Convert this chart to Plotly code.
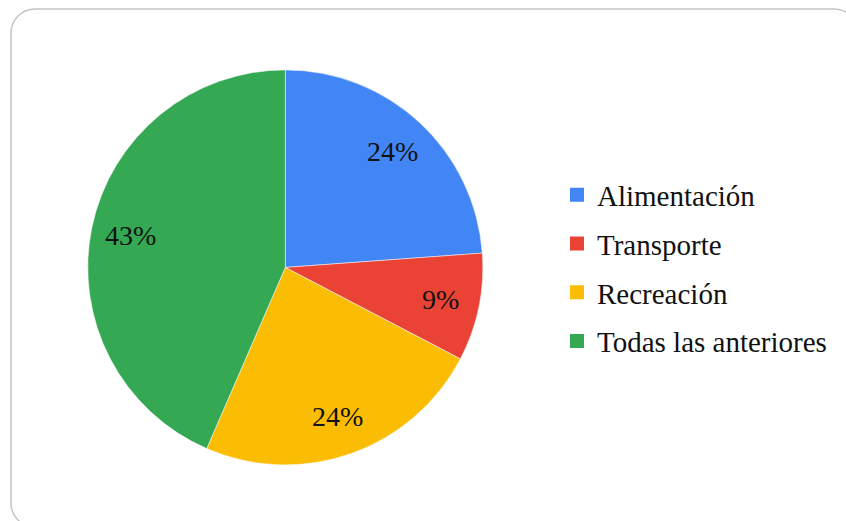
import math
import plotly.graph_objects as go

categories = ["Alimentación", "Transporte", "Recreación", "Todas las anteriores"]
values = [23.8, 8.8, 23.8, 43.4]
colors = ["#4285F4", "#EA4335", "#FBBC04", "#34A853"]

W, H = 846, 521
cx, cy, R = 285.3, 267.4, 197.5  # pixel geometry of pie

def px_x(x):
    return x / W

def px_y(y):
    return (H - y) / H

fig = go.Figure()
fig.add_trace(go.Pie(
    labels=categories,
    values=values,
    sort=False,
    direction="clockwise",
    rotation=0,
    marker=dict(colors=colors, line=dict(color="white", width=0.5)),
    textinfo="none",
    hoverinfo="label+percent",
    showlegend=False,
    domain=dict(x=[px_x(cx - R), px_x(cx + R)], y=[px_y(cy + R), px_y(cy - R)]),
))

# legend entries (one per category, so that the row spacing can be set)
for i, (name, col) in enumerate(zip(categories, colors)):
    fig.add_trace(go.Scatter(
        x=[None], y=[None], mode="markers", name=name,
        marker=dict(symbol="square", size=14, color=col),
        legendgroup=f"g{i}", showlegend=True, hoverinfo="skip",
    ))

# percentage labels placed at slice mid-angles
total = sum(values)
cum = 0
annotations = []
for v in values:
    mid = (cum + v / 2) / total
    cum += v
    ang = math.radians(90 - mid * 360)
    r = 0.8 * R
    x = cx + r * math.cos(ang)
    y = cy - r * math.sin(ang)
    annotations.append(dict(
        x=px_x(x), y=px_y(y), xref="paper", yref="paper",
        text=f"{round(v / total * 100)}%", showarrow=False,
        font=dict(family="Liberation Serif", size=28, color="#111111"),
        xanchor="center", yanchor="middle",
    ))

# rounded border frame
x0, y0, x1, y1, rr = 11, 9, 858, 527, 24
k = 0.5523 * rr
def P(x, y):
    return f"{px_x(x):.5f},{px_y(y):.5f}"
path = (
    f"M {P(x0 + rr, y0)} L {P(x1 - rr, y0)} "
    f"C {P(x1 - rr + k, y0)} {P(x1, y0 + rr - k)} {P(x1, y0 + rr)} "
    f"L {P(x1, y1 - rr)} "
    f"C {P(x1, y1 - rr + k)} {P(x1 - rr + k, y1)} {P(x1 - rr, y1)} "
    f"L {P(x0 + rr, y1)} "
    f"C {P(x0 + rr - k, y1)} {P(x0, y1 - rr + k)} {P(x0, y1 - rr)} "
    f"L {P(x0, y0 + rr)} "
    f"C {P(x0, y0 + rr - k)} {P(x0 + rr - k, y0)} {P(x0 + rr, y0)} Z"
)

fig.update_layout(
    width=W, height=H,
    margin=dict(l=0, r=0, t=0, b=0),
    paper_bgcolor="white",
    plot_bgcolor="white",
    font=dict(family="Liberation Serif", color="#111111"),
    showlegend=True,
    xaxis=dict(visible=False),
    yaxis=dict(visible=False),
    legend=dict(
        x=px_x(557), y=px_y(268), xanchor="left", yanchor="middle",
        font=dict(family="Liberation Serif", size=29, color="#111111"),
        bgcolor="rgba(0,0,0,0)",
        tracegroupgap=8,
        itemclick=False, itemdoubleclick=False,
    ),
    annotations=annotations,
    shapes=[dict(type="path", xref="paper", yref="paper", path=path,
                 line=dict(color="#c4c4c4", width=1.5), layer="below")],
)

fig.write_html(
    "out.html",
    config={"displayModeBar": False},
    post_script="document.body.style.margin='0';document.body.style.overflow='hidden';",
)
